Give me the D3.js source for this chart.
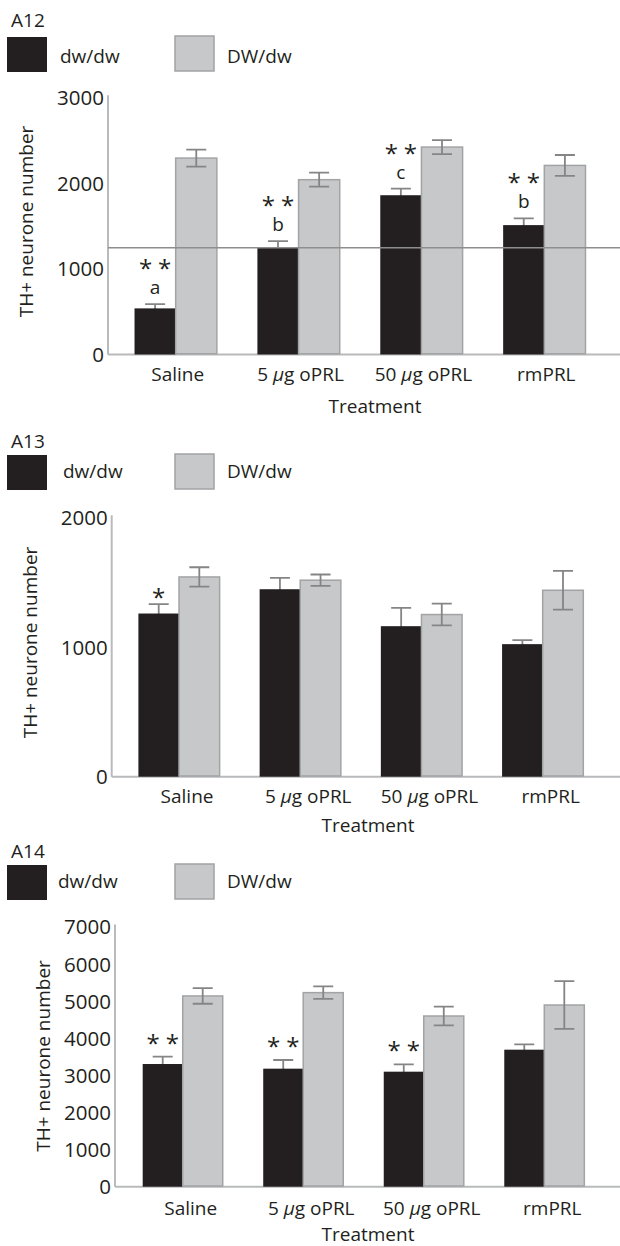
<!DOCTYPE html>
<html>
<head>
<meta charset="utf-8">
<script src="https://cdn.jsdelivr.net/npm/d3@7"></script>
<style>
  body { margin: 0; background: #fff; }
  text { font-family: "Open Sans", "Noto Sans", sans-serif; fill: #231f20; }
  .bar-dark { fill: #231f20; }
  .bar-light { fill: #c7c8ca; stroke: #a2a3a5; stroke-width: 1.5px; }
  .err { stroke: #858585; stroke-width: 1.8px; fill: none; }
  .axisline { stroke: #b9babc; stroke-width: 2px; }
  .refline { stroke: #8e8e8e; stroke-width: 1.5px; }
</style>
</head>
<body>
<script>
// categories and series
var categories = ["Saline", "5 µg oPRL", "50 µg oPRL", "rmPRL"];
var seriesNames = ["dw/dw", "DW/dw"];

// A12
var a12Dw = [540, 1250, 1865, 1515];
var a12DwErr = [50, 78, 78, 78];
var a12DW = [2300, 2047, 2429, 2214];
var a12DWErr = [100, 82, 82, 122];
var a12Stars = ["**", "**", "**", "**"];
var a12Letters = ["a", "b", "c", "b"];
var a12Ref = [1250];
var a12Ticks = [0, 1000, 2000, 3000];

// A13
var a13Dw = [1263, 1451, 1165, 1026];
var a13DwErr = [72, 88, 142, 31];
var a13DW = [1546, 1521, 1255, 1443];
var a13DWErr = [75, 44, 84, 150];
var a13Stars = ["*", "", "", ""];
var a13Ticks = [0, 1000, 2000];

// A14
var a14Dw = [3312, 3186, 3105, 3699];
var a14DwErr = [198, 234, 198, 144];
var a14DW = [5149, 5239, 4608, 4905];
var a14DWErr = [210, 170, 252, 644];
var a14Stars = ["**", "**", "**", ""];
var a14Ticks = [0, 1000, 2000, 3000, 4000, 5000, 6000, 7000];

var yTitle = "TH+ neurone number";
var xTitle = "Treatment";

var svg = d3.select("body").append("svg")
    .attr("width", 620)
    .attr("height", 1246);

var panels = [
  { title: "A12", dw: a12Dw, dwErr: a12DwErr, DW: a12DW, DWErr: a12DWErr,
    stars: a12Stars, letters: a12Letters, ref: a12Ref, ticks: a12Ticks,
    lay: { titleY: 27, boxY: 37, textY: 63, dwX: 60, axisX: 108, yTop: 98.3, y0: 354.5,
           band: [114.25, 605.75], pad: 0.33, labelY: 381, labelDx: 2, treatX: 375, treatY: 413,
           ytX: 33, ytY: 221.5, starOff: 40 } },
  { title: "A13", dw: a13Dw, dwErr: a13DwErr, DW: a13DW, DWErr: a13DWErr,
    stars: a13Stars, letters: null, ref: null, ticks: a13Ticks,
    lay: { titleY: 448, boxY: 455, textY: 478, dwX: 63, axisX: 111.7, yTop: 518.3, y0: 776.7,
           band: [118.4, 603.3], pad: 0.33, labelY: 803, labelDx: 8, treatX: 368, treatY: 832,
           ytX: 36.7, ytY: 642.5, starOff: 11 } },
  { title: "A14", dw: a14Dw, dwErr: a14DwErr, DW: a14DW, DWErr: a14DWErr,
    stars: a14Stars, letters: null, ref: null, ticks: a14Ticks,
    lay: { titleY: 858, boxY: 865, textY: 888, dwX: 58, axisX: 115, yTop: 927.4, y0: 1186.7,
           band: [122.45, 604.55], pad: 0.336, labelY: 1215, labelDx: 8, treatX: 368, treatY: 1241,
           ytX: 50, ytY: 1056, starOff: 18 } }
];

panels.forEach(drawPanel);

function drawPanel(p) {
  var L = p.lay;
  var g = svg.append("g");
  var yMax = d3.max(p.ticks);

  var x = d3.scaleBand()
      .domain(categories)
      .range(L.band)
      .paddingInner(L.pad)
      .paddingOuter(L.pad / 2);
  var xs = d3.scaleBand()
      .domain(seriesNames)
      .range([0, x.bandwidth()]);
  var y = d3.scaleLinear()
      .domain([0, yMax])
      .range([L.y0, L.yTop]);

  // title + legend
  g.append("text").attr("x", 11).attr("y", L.titleY)
      .attr("font-size", 19).text(p.title);
  g.append("rect").attr("class", "bar-dark")
      .attr("x", 7).attr("y", L.boxY).attr("width", 40).attr("height", 35);
  g.append("text").attr("x", L.dwX).attr("y", L.textY)
      .attr("font-size", 19).text(seriesNames[0]);
  g.append("rect").attr("class", "bar-light")
      .attr("x", 175).attr("y", L.boxY - 1).attr("width", 39).attr("height", 35);
  g.append("text").attr("x", 227).attr("y", L.textY)
      .attr("font-size", 19).text(seriesNames[1]);

  // y axis
  var yAxis = d3.axisLeft(y).tickValues(p.ticks).tickSize(0).tickPadding(4)
      .tickFormat(d3.format("d"));
  var ya = g.append("g")
      .attr("transform", "translate(" + L.axisX + ",0)")
      .call(yAxis);
  ya.select(".domain").remove();
  ya.selectAll("text")
      .attr("font-size", 20.5)
      .attr("font-family", "'Open Sans', sans-serif")
      .attr("fill", "#231f20");

  g.append("line").attr("class", "axisline")
      .attr("x1", L.axisX).attr("x2", L.axisX)
      .attr("y1", y(yMax) - 3).attr("y2", y(0));
  g.append("line").attr("class", "axisline")
      .attr("x1", L.axisX).attr("x2", 620)
      .attr("y1", y(0)).attr("y2", y(0));

  var rows = categories.map(function(c, i) {
    return { cat: c, i: i, dw: p.dw[i], dwErr: p.dwErr[i], DW: p.DW[i], DWErr: p.DWErr[i] };
  });

  function errBars(sel, key, errKey, series) {
    var w = 10;
    var cx = function(d) { return x(d.cat) + xs(series) + xs.bandwidth() / 2; };
    var eg = sel.append("g");
    eg.selectAll("path").data(rows).join("path")
      .attr("class", "err")
      .attr("d", function(d) {
        var c = cx(d), hi = y(d[key] + d[errKey]), lo = y(d[key] - d[errKey]);
        return "M" + c + "," + lo + "V" + hi +
               "M" + (c - w) + "," + hi + "H" + (c + w) +
               "M" + (c - w) + "," + lo + "H" + (c + w);
      });
  }

  // dark series: error bars behind bars
  errBars(g, "dw", "dwErr", seriesNames[0]);
  g.append("g").selectAll("rect").data(rows).join("rect")
      .attr("class", "bar-dark")
      .attr("x", function(d) { return x(d.cat) + xs(seriesNames[0]); })
      .attr("y", function(d) { return y(d.dw); })
      .attr("width", xs.bandwidth())
      .attr("height", function(d) { return y(0) - y(d.dw); });

  // light series
  g.append("g").selectAll("rect").data(rows).join("rect")
      .attr("class", "bar-light")
      .attr("x", function(d) { return x(d.cat) + xs(seriesNames[1]); })
      .attr("y", function(d) { return y(d.DW); })
      .attr("width", xs.bandwidth())
      .attr("height", function(d) { return y(0) - y(d.DW) - 0.75; });
  errBars(g, "DW", "DWErr", seriesNames[1]);

  // reference line
  if (p.ref) {
    g.append("g").selectAll("line").data(p.ref).join("line")
      .attr("class", "refline")
      .attr("x1", L.axisX).attr("x2", 620)
      .attr("y1", function(d) { return y(d); })
      .attr("y2", function(d) { return y(d); });
  }

  // significance marks (stars, with the letter below in the same text)
  var bx = function(i) { return x(categories[i]) + xs(seriesNames[0]) + xs.bandwidth() / 2; };
  var top = function(i) { return y(p.dw[i] + p.dwErr[i]); };
  p.stars.forEach(function(s, i) {
    if (!s) return;
    var t = g.append("text").attr("text-anchor", "middle");
    t.append("tspan")
      .attr("x", bx(i) + (s.length > 1 ? 3 : 0))
      .attr("y", top(i) - L.starOff + 13)
      .attr("font-size", 24)
      .attr("letter-spacing", s.length > 1 ? 6 : 0)
      .text(s);
    if (p.letters && p.letters[i]) {
      t.append("tspan")
        .attr("x", bx(i))
        .attr("y", top(i) - 10)
        .attr("font-size", 19)
        .text(p.letters[i]);
    }
  });

  // category labels
  var lab = g.append("g").selectAll("text").data(categories).join("text")
      .attr("x", function(d) { return x(d) + x.bandwidth() / 2 + L.labelDx; })
      .attr("y", L.labelY)
      .attr("text-anchor", "middle")
      .attr("font-size", 19);
  lab.each(function(d) {
    var t = d3.select(this);
    var parts = d.split("µ");
    t.append("tspan").text(parts[0]);
    if (parts.length > 1) {
      t.append("tspan").attr("font-style", "italic").text("µ");
      t.append("tspan").text(parts[1]);
    }
  });

  g.append("text")
      .attr("x", L.treatX).attr("y", L.treatY)
      .attr("text-anchor", "middle")
      .attr("font-size", 19)
      .text(xTitle);

  g.append("text")
      .attr("transform", "translate(" + L.ytX + "," + L.ytY + ") rotate(-90)")
      .attr("text-anchor", "middle")
      .attr("font-size", 19)
      .text(yTitle);
}
</script>
</body>
</html>
